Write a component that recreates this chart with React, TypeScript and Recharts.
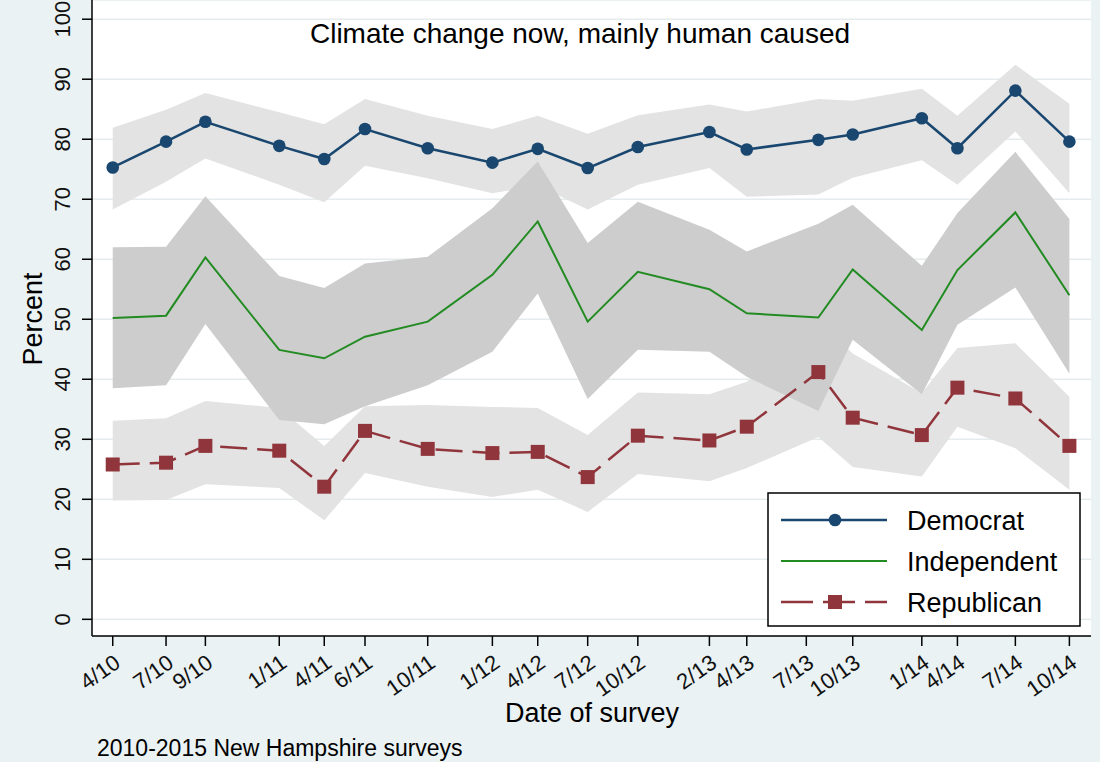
import React from "react";
import { ComposedChart, Area, Line, XAxis, YAxis, CartesianGrid } from "recharts";

// survey dates as months since Jan 2010 (0 = 1/10)
const surveyMonth = [3, 6.01, 8.23, 12.4, 14.94, 17.24, 20.78, 24.43, 26.99, 29.81, 32.64, 36.68, 38.79, 42.83, 44.77, 48.67, 50.68, 53.95, 57];

const democrat = [75.3, 79.6, 82.9, 78.9, 76.7, 81.7, 78.5, 76.1, 78.4, 75.2, 78.7, 81.2, 78.3, 79.9, 80.8, 83.5, 78.5, 88.1, 79.6];
const demHi = [81.9, 84.9, 87.7, 84.5, 82.5, 86.7, 83.9, 81.7, 83.9, 80.9, 84.0, 85.8, 84.6, 86.7, 86.4, 88.4, 83.9, 92.4, 85.9];
const demLo = [68.3, 72.9, 76.8, 72.4, 69.5, 75.6, 73.5, 71.0, 72.3, 68.3, 72.4, 75.2, 70.4, 70.8, 73.6, 76.5, 72.4, 81.3, 71.0];

const independent = [50.2, 50.6, 60.3, 44.9, 43.5, 47.1, 49.6, 57.4, 66.3, 49.6, 57.9, 55.0, 51.0, 50.3, 58.3, 48.2, 58.2, 67.8, 54.0];
const indHi = [62.0, 62.1, 70.5, 57.2, 55.2, 59.3, 60.4, 68.5, 76.3, 62.7, 69.6, 64.9, 61.3, 65.9, 69.1, 58.9, 67.7, 77.9, 66.7];
const indLo = [38.5, 39.0, 49.2, 33.2, 32.5, 35.5, 39.0, 44.6, 54.3, 36.7, 44.9, 44.6, 40.4, 34.7, 46.6, 37.5, 49.1, 55.3, 40.9];

const republican = [25.8, 26.1, 28.9, 28.1, 22.1, 31.4, 28.4, 27.7, 27.9, 23.7, 30.6, 29.8, 32.1, 41.2, 33.6, 30.7, 38.6, 36.8, 28.9];
const repHi = [33.1, 33.5, 36.4, 35.2, 28.9, 35.5, 35.7, 35.4, 35.2, 30.7, 37.8, 37.5, 39.6, 50.0, 44.3, 37.7, 45.2, 46.0, 37.1];
const repLo = [19.8, 19.9, 22.5, 21.9, 16.5, 24.4, 22.1, 20.4, 21.6, 17.9, 24.2, 23.0, 25.2, 30.4, 25.4, 23.8, 32.1, 28.5, 21.6];

const tickMonths = [3, 6.01, 8.23, 12.4, 14.94, 17.24, 20.78, 24.43, 26.99, 29.81, 32.64, 36.68, 38.79, 42.15, 44.77, 48.67, 50.68, 53.95, 57];
const tickLabels = ["4/10", "7/10", "9/10", "1/11", "4/11", "6/11", "10/11", "1/12", "4/12", "7/12", "10/12", "2/13", "4/13", "7/13", "10/13", "1/14", "4/14", "7/14", "10/14"];

const yTicks = [0, 10, 20, 30, 40, 50, 60, 70, 80, 90, 100];

const NAVY = "#1a476f";
const GREEN = "#228b22";
const MAROON = "#90353b";
const FONT = "'Liberation Sans', Arial, sans-serif";

const data = surveyMonth.map((m, i) => ({
  m,
  dem: democrat[i],
  ind: independent[i],
  rep: republican[i],
  demBand: [demLo[i], demHi[i]],
  indBand: [indLo[i], indHi[i]],
  repBand: [repLo[i], repHi[i]],
}));

const XTick = (props: any) => {
  const { x, y, payload } = props;
  const idx = tickMonths.indexOf(payload.value);
  return (
    <text
      transform={`translate(${x + 9},${y + 18}) rotate(-35)`}
      textAnchor="end"
      fontSize={22}
      fontFamily={FONT}
      fill="#111"
    >
      {tickLabels[idx]}
    </text>
  );
};

const YTick = (props: any) => {
  const { x, y, payload } = props;
  return (
    <text
      transform={`translate(${x - 10},${y}) rotate(-90)`}
      textAnchor="middle"
      fontSize={22}
      fontFamily={FONT}
      fill="#111"
    >
      {payload.value}
    </text>
  );
};

const SquareDot = (props: any) => {
  const { cx, cy, index } = props;
  if (cx == null || cy == null) return null;
  return <rect key={`sq-${index}`} x={cx - 7} y={cy - 7} width={14} height={14} fill={MAROON} />;
};

export default function App() {
  return (
    <div
      style={{
        position: "absolute",
        left: 0,
        top: 0,
        width: 1100,
        height: 762,
        background: "#eaf2f3",
        fontFamily: FONT,
      }}
    >
      <ComposedChart width={1100} height={762} data={data} margin={{ top: 0, right: 9, bottom: 66, left: 52 }}>
        <CartesianGrid vertical={false} fill="#ffffff" fillOpacity={1} stroke="#e6eced" strokeWidth={1.5} />
        <XAxis
          dataKey="m"
          type="number"
          domain={[1.83, 58.22]}
          ticks={tickMonths}
          interval={0}
          allowDataOverflow
          height={60}
          tickSize={10}
          axisLine={{ stroke: "#000", strokeWidth: 1.5 }}
          tickLine={{ stroke: "#000", strokeWidth: 1.5 }}
          tick={<XTick />}
        />
        <YAxis
          type="number"
          domain={[-2.78, 103.2]}
          ticks={yTicks}
          interval={0}
          allowDataOverflow
          width={40}
          tickSize={10}
          axisLine={{ stroke: "#000", strokeWidth: 1.5 }}
          tickLine={{ stroke: "#000", strokeWidth: 1.5 }}
          tick={<YTick />}
        />
        <Area dataKey="demBand" type="linear" stroke="none" fill="#e3e3e3" fillOpacity={1} isAnimationActive={false} />
        <Area dataKey="repBand" type="linear" stroke="none" fill="#e3e3e3" fillOpacity={1} isAnimationActive={false} />
        <Area dataKey="indBand" type="linear" stroke="none" fill="#cdcdcd" fillOpacity={1} isAnimationActive={false} />
        <Line
          dataKey="dem"
          type="linear"
          stroke={NAVY}
          strokeWidth={2.5}
          dot={{ r: 6.3, fill: NAVY, stroke: NAVY, strokeWidth: 0 }}
          isAnimationActive={false}
        />
        <Line dataKey="ind" type="linear" stroke={GREEN} strokeWidth={2} dot={false} isAnimationActive={false} />
        <Line
          dataKey="rep"
          type="linear"
          stroke={MAROON}
          strokeWidth={2.5}
          strokeDasharray="27 10"
          dot={<SquareDot />}
          isAnimationActive={false}
        />
      </ComposedChart>
      <svg
        width={1100}
        height={762}
        style={{ position: "absolute", left: 0, top: 0, pointerEvents: "none" }}
        fontFamily={FONT}
      >
        <text x={580} y={43} textAnchor="middle" fontSize={28} fill="#000">
          Climate change now, mainly human caused
        </text>
        <text transform="translate(42,319) rotate(-90)" textAnchor="middle" fontSize={27} fill="#000">
          Percent
        </text>
        <text x={592} y={722} textAnchor="middle" fontSize={27} fill="#000">
          Date of survey
        </text>
        <text x={97} y={756} fontSize={23} fill="#000">
          2010-2015 New Hampshire surveys
        </text>
        <rect x={768} y={493} width={312} height={133} fill="#fff" stroke="#000" strokeWidth={1.5} />
        <line x1={781} x2={887} y1={520} y2={520} stroke={NAVY} strokeWidth={2.5} />
        <circle cx={835} cy={520} r={6.3} fill={NAVY} />
        <text x={907} y={530} fontSize={27} fill="#000">Democrat</text>
        <line x1={781} x2={887} y1={561} y2={561} stroke={GREEN} strokeWidth={2} />
        <text x={907} y={571} fontSize={27} fill="#000">Independent</text>
        <line x1={781} x2={887} y1={602} y2={602} stroke={MAROON} strokeWidth={2.5} strokeDasharray="32 10" />
        <rect x={828} y={595} width={14} height={14} fill={MAROON} />
        <text x={907} y={612} fontSize={27} fill="#000">Republican</text>
      </svg>
    </div>
  );
}
